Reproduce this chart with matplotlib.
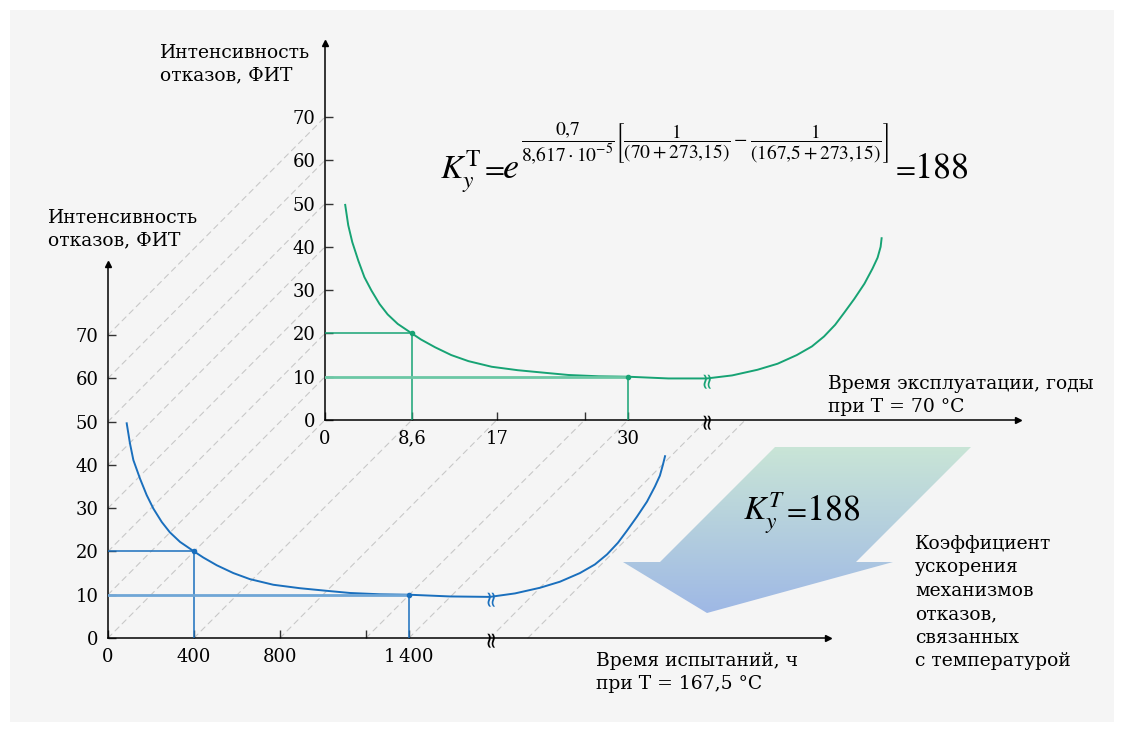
import numpy as np
import matplotlib
matplotlib.use("Agg")
import matplotlib.pyplot as plt
from matplotlib.patches import Rectangle, Polygon, ConnectionPatch

plt.rcParams['font.family'] = ['DejaVu Serif']
plt.rcParams['mathtext.fontset'] = 'stix'

# --- данные ---
# нижний график: испытания, часы
hours_left = [87, 102, 118, 149, 180, 211, 250, 288, 335, 400, 443, 506, 583, 660,
              769, 893, 1017, 1126, 1265, 1400, 1591, 1769]
fit_left = [49.6, 45.0, 41.1, 36.8, 33.0, 29.9, 26.8, 24.4, 22.2, 20, 18.6, 16.8, 15.0,
            13.6, 12.3, 11.5, 10.9, 10.4, 10.1, 10, 9.6, 9.5]
hours_right = [1777, 1893, 2009, 2102, 2195, 2265, 2321, 2372, 2414, 2460, 2507,
               2544, 2567, 2581, 2591]
fit_right = [9.5, 10.3, 11.6, 13.0, 15.0, 17.0, 19.3, 22.0, 24.8, 28.0, 31.5,
             35.0, 37.5, 40.0, 42.0]
# верхний график: эксплуатация, годы
years_left = [2.0, 2.3, 2.7, 3.3, 3.9, 4.6, 5.4, 6.2, 7.2, 8.6, 9.5, 10.9, 12.5, 14.2,
              16.5, 19.1, 21.8, 24.1, 27.1, 30, 34.0, 37.6]
fit_up_left = [49.7, 45.0, 41.1, 36.8, 33.0, 29.9, 26.8, 24.4, 22.2, 20, 18.6, 16.8,
               15.0, 13.6, 12.3, 11.5, 10.9, 10.4, 10.1, 10, 9.6, 9.6]
years_right = [37.8, 40.3, 42.8, 44.8, 46.7, 48.2, 49.4, 50.5, 51.4, 52.4, 53.4,
               54.2, 54.7, 55.0, 55.1]
fit_up_right = [9.6, 10.3, 11.6, 13.0, 15.0, 17.0, 19.3, 22.0, 24.8, 28.0, 31.5,
                35.0, 37.5, 40.0, 42.0]

y_ticks = [0, 10, 20, 30, 40, 50, 60, 70]
hours_ticks = [0, 400, 800, 1200, 1400]
hours_labels = ['0', '400', '800', '', '1\u2009400']
years_ticks = [0, 8.6, 17, 25.7, 30]
years_labels = ['0', '8,6', '17', '', '30']
# пары точек для проекционных линий (часы -> годы)
proj_hours = [400, 800, 1200, 1400, 1777, 1953]
proj_years = [8.6, 17, 25.7, 30, 37.8, 41.6]
hours_mark = [400, 1400]
fit_mark = [20, 10]
years_mark = [8.6, 30]
break_hours = 1777
break_years = 37.8

blue = '#1a6fbd'
blue_l = '#6fa6d6'
green = '#17a374'
green_l = '#6cc7a5'

W, H = 1124, 732
fig = plt.figure(figsize=(W / 100, H / 100), dpi=100)
fig.patch.set_facecolor('white')

bg = fig.add_axes([0, 0, 1, 1], zorder=-2)
bg.set_xlim(0, W)
bg.set_ylim(H, 0)
bg.axis('off')
bg.add_patch(Rectangle((10, 10), 1104, 712, color='#f5f5f5', lw=0, zorder=0))


def px_axes(x0, y0, x1, y1):
    ax = fig.add_axes([x0 / W, 1 - y0 / H, (x1 - x0) / W, (y0 - y1) / H], zorder=1)
    ax.set_facecolor('none')
    for s in ['top', 'right']:
        ax.spines[s].set_visible(False)
    for s in ['left', 'bottom']:
        ax.spines[s].set_linewidth(1.1)
    ax.tick_params(direction='in', length=6, width=1, labelsize=13, pad=7, color='#333333')
    ax.plot(0, 1, '^k', ms=4, transform=ax.get_xaxis_transform(), clip_on=False)
    ax.plot(1, 0, '>k', ms=4, transform=ax.get_yaxis_transform(), clip_on=False)
    ax.set_yticks(y_ticks)
    return ax


ax_lo = px_axes(108, 638, 828, 264)
ax_lo.set_xlim(0, 3349)
ax_lo.set_ylim(0, 86.4)
ax_lo.set_xticks(hours_ticks, hours_labels)

ax_hi = px_axes(325, 420, 1018, 43)
ax_hi.set_xlim(0, 68.6)
ax_hi.set_ylim(0, 87.1)
ax_hi.set_xticks(years_ticks, years_labels)

# проекционные линии
dash = dict(ls=(0, (5, 4)), color='#c8c8c8', lw=0.8, zorder=0.5)
for v in y_ticks:
    fig.add_artist(ConnectionPatch(xyA=(0, v), coordsA=ax_lo.transData,
                                   xyB=(0, v), coordsB=ax_hi.transData, **dash))
for h, yr in zip(proj_hours, proj_years):
    fig.add_artist(ConnectionPatch(xyA=(h, 0), coordsA=ax_lo.transData,
                                   xyB=(yr, 0), coordsB=ax_hi.transData, **dash))


def draw_curve(ax, xl, yl, xr, yr, xm, ym, xb, c, cl):
    ax.plot(xl, yl, color=c, lw=1.4, zorder=3, solid_joinstyle='round')
    ax.plot(xr, yr, color=c, lw=1.4, zorder=3, solid_joinstyle='round')
    ax.plot([0, xm[0]], [ym[0], ym[0]], color=c, lw=1.1, zorder=3)
    ax.plot([xm[0], xm[0]], [0, ym[0]], color=c, lw=1.1, zorder=3)
    ax.plot([0, xm[1]], [ym[1], ym[1]], color=cl, lw=2, zorder=3)
    ax.plot([xm[1], xm[1]], [0, ym[1]], color=c, lw=1.1, zorder=3)
    ax.plot(xm, ym, 'o', color=c, ms=3, zorder=4)
    ax.text(xb, yr[0], '≈', rotation=90, color=c, fontsize=16,
            ha='center', va='center', family='DejaVu Sans', zorder=5)
    ax.text(xb, 0, '≈', rotation=90, color='black', fontsize=16,
            ha='center', va='center', family='DejaVu Sans', zorder=5)


draw_curve(ax_lo, hours_left, fit_left, hours_right, fit_right,
           hours_mark, fit_mark, break_hours, blue, blue_l)
draw_curve(ax_hi, years_left, fit_up_left, years_right, fit_up_right,
           years_mark, fit_mark, break_years, green, green_l)

# стрелка с градиентом
arrow = Polygon([(775, 447), (971, 447), (856, 562), (893, 562), (707, 613),
                 (623, 562), (660, 562)], closed=True, fc='none', ec='none')
bg.add_patch(arrow)
top = np.array([0.79, 0.90, 0.84])
bot = np.array([0.62, 0.72, 0.90])
t = np.linspace(0, 1, 200)[:, None, None]
grad = top * (1 - t) + bot * t
im = bg.imshow(grad, extent=(620, 975, 615, 445), aspect='auto',
               interpolation='bilinear', zorder=2)
im.set_clip_path(arrow)
bg.set_xlim(0, W)
bg.set_ylim(H, 0)

# подписи
lab = dict(fontsize=13.5, linespacing=1.33, va='top', ha='left', zorder=3)
bg.text(160, 44, 'Интенсивность\nотказов, ФИТ', **lab)
bg.text(48, 209, 'Интенсивность\nотказов, ФИТ', **lab)
bg.text(828, 375, 'Время эксплуатации, годы\nпри T = 70 °C', **lab)
bg.text(596, 652, 'Время испытаний, ч\nпри T = 167,5 °C', **lab)
bg.text(915, 535, 'Коэффициент\nускорения\nмеханизмов\nотказов,\nсвязанных\nс температурой',
        **dict(lab, linespacing=1.39))

# формулы
big = dict(fontsize=26, ha='left', va='baseline', zorder=3)
kk = dict(fontsize=24, ha='left', va='baseline', zorder=3)
eq = dict(fontsize=21, ha='center', va='baseline', zorder=3)
bg.text(440, 178, r'$K_y^{\mathrm{T}}$', **kk)
bg.text(492, 176, r'$=$', **eq)
bg.text(502, 178, r'$e$', **big)
bg.text(521, 143, r'$\dfrac{0{,}7}{8{,}617\cdot10^{-5}}\left[\dfrac{1}{(70+273{,}15)}-'
        r'\dfrac{1}{(167{,}5+273{,}15)}\right]$', fontsize=14, ha='left', va='center', zorder=3)
bg.text(903, 176, r'$=$', **eq)
bg.text(914, 178, r'$188$', **big)
bg.text(743, 520, r'$K_y^T$', **kk)
bg.text(794, 518, r'$=$', **eq)
bg.text(806, 520, r'$188$', **big)

fig.savefig('out.png', dpi=100, facecolor='white')
